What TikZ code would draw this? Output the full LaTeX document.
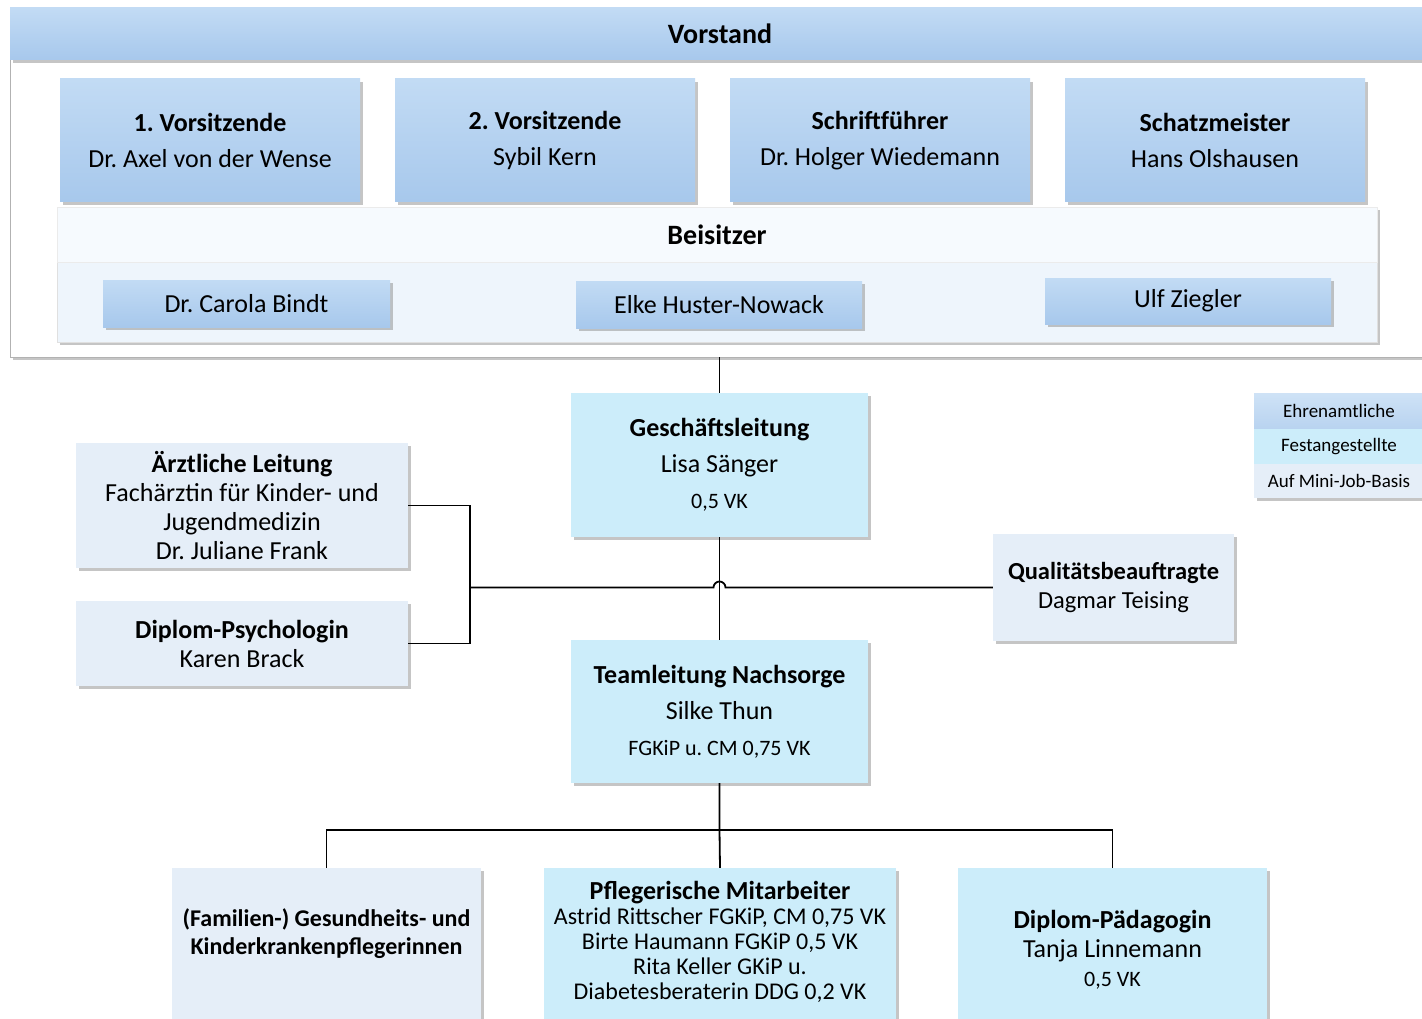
\documentclass[tikz,border=0pt]{standalone}
\usepackage{fontspec}
\setmainfont{Carlito}
\usetikzlibrary{shadows}
\frenchspacing

\definecolor{ehrenTop}{HTML}{C2DBF4}
\definecolor{ehrenBot}{HTML}{A7C8EC}
\definecolor{festFill}{HTML}{CCEDFA}
\definecolor{miniFill}{HTML}{E5EEF8}
\definecolor{panelFill}{HTML}{EEF5FC}
\definecolor{panelHead}{HTML}{F6FAFE}

\tikzset{
  box/.style={align=center, inner sep=0pt,
    drop shadow={shadow xshift=3pt, shadow yshift=-3pt, fill=black!45}},
  ehrenbox/.style={box, top color=ehrenTop, bottom color=ehrenBot},
  festbox/.style={box, fill=festFill},
  minibox/.style={box, fill=miniFill},
  big/.style={font=\fontsize{26}{36}\selectfont},
  mid/.style={font=\fontsize{26}{29}\selectfont},
  headline/.style={font=\fontsize{28}{30}\selectfont\bfseries},
  legtext/.style={font=\fontsize{19}{22}\selectfont},
  link/.style={draw, line width=1.8pt}
}
\newcommand{\klein}{\fontsize{22}{25}\selectfont}

\begin{document}
\begin{tikzpicture}[x=1pt, y=-1pt]
        \useasboundingbox[fill=white] (0,0) rectangle (1422,1019);

         % Vorstand
        \node[box, fill=white, draw=black!30, minimum width=1420pt, minimum height=349pt] (vframe) at (720,182.5) {};
        \node[ehrenbox, headline, minimum width=1420pt, minimum height=52pt] (vorstand) at (720,34) {Vorstand};

        \node[ehrenbox, big, minimum width=300pt, minimum height=123pt] (v1) at (210,140.5) {\textbf{1. Vorsitzende}\\Dr. Axel von der Wense};
        \node[ehrenbox, big, minimum width=300pt, minimum height=123pt] (v2) at (545,140.5) {\textbf{2. Vorsitzende}\\Sybil Kern};
        \node[ehrenbox, big, minimum width=300pt, minimum height=123pt] (v3) at (880,140.5) {\textbf{Schriftführer}\\Dr. Holger Wiedemann};
        \node[ehrenbox, big, minimum width=300pt, minimum height=123pt] (v4) at (1215,140.5) {\textbf{Schatzmeister}\\Hans Olshausen};

         % Beisitzer
        \node[box, fill=panelFill, draw=black!12, minimum width=1320pt, minimum height=135pt] (bpanel) at (717,274.5) {};
        \node[fill=panelHead, draw=black!8, headline, minimum width=1320pt, minimum height=55pt] (beisitzer) at (717,234.5) {Beisitzer};
        \node[ehrenbox, mid, minimum width=287pt, minimum height=47pt] (b1) at (246.5,303.5) {Dr. Carola Bindt};
        \node[ehrenbox, mid, minimum width=286pt, minimum height=47pt] (b2) at (719,304.5) {Elke Huster-Nowack};
        \node[ehrenbox, mid, minimum width=286pt, minimum height=46pt] (b3) at (1188,301) {Ulf Ziegler};

         % Legende
        \node[box, top color=ehrenTop!80, bottom color=ehrenBot!80, legtext, minimum width=170pt, minimum height=35pt] (leg1) at (1339,411) {Ehrenamtliche};
        \node[fill=festFill, legtext, minimum width=170pt, minimum height=35pt] (leg2) at (1339,446.5) {Festangestellte};
        \node[box, fill=miniFill, legtext, minimum width=170pt, minimum height=34pt] (leg3) at (1339,481) {Auf Mini-Job-Basis};

         % Geschaeftsleitung und Stabsstellen
        \node[festbox, big, minimum width=297pt, minimum height=144pt] (gl) at (719.5,465) {\textbf{Geschäftsleitung}\\Lisa Sänger\\{\klein 0,5 VK}};
        \node[minibox, mid, minimum width=332pt, minimum height=125pt] (al) at (242,505.5) {\textbf{Ärztliche Leitung}\\Fachärztin für Kinder- und\\Jugendmedizin\\Dr. Juliane Frank};
        \node[minibox, mid, minimum width=332pt, minimum height=85pt] (dp) at (242,643.5) {\textbf{Diplom-Psychologin}\\Karen Brack};
        \node[minibox, font=\fontsize{24.5}{29}\selectfont, minimum width=241pt, minimum height=107pt] (qb) at (1113.5,587.5) {\textbf{Qualitätsbeauftragte}\\Dagmar Teising};

         % Teamleitung
        \node[festbox, big, minimum width=297pt, minimum height=143pt] (tl) at (719.5,711.5) {\textbf{Teamleitung Nachsorge}\\Silke Thun\\{\klein FGKiP u. CM 0,75 VK}};

         % Mitarbeiter
        \node[minibox, minimum width=309pt, minimum height=164pt] (fk) at (326.5,950) {};
        \node[align=center, font=\fontsize{24}{28}\selectfont\bfseries] (fktext) at (326.5,934) {(Familien-) Gesundheits- und\\Kinderkrankenpflegerinnen};
        \node[festbox, minimum width=352pt, minimum height=164pt] (pm) at (720,950) {};
        \node[align=center, font=\fontsize{24}{25}\selectfont] (pmtext) at (720,942) {{\fontsize{26}{25}\selectfont\textbf{Pflegerische Mitarbeiter}}\\Astrid Rittscher FGKiP, CM 0,75 VK\\Birte Haumann FGKiP 0,5 VK\\Rita Keller GKiP u.\\Diabetesberaterin DDG 0,2 VK};
        \node[festbox, mid, minimum width=309pt, minimum height=164pt] (pd) at (1112.5,950) {\textbf{Diplom-Pädagogin}\\Tanja Linnemann\\{\klein 0,5 VK}};

         % Linien
        \draw[link] (gl.north |- vframe.south) -- (gl.north);
        \coordinate (klammer) at (470,587.5);
        \draw[link] (al.east) -| (klammer) |- (dp.east);
        \draw[link] (klammer) -- (713.5,587.5) arc (180:360:6) -- (qb.west);
        \draw[link] (gl.south) -- (tl.north);
        \coordinate (bus) at (719.5,830);
        \draw[link] (tl.south) -- (bus) -- (pm.north);
        \draw[link] (fk.north) -- (fk.north |- bus) -- (pd.north |- bus) -- (pd.north);
\end{tikzpicture}
\end{document}
